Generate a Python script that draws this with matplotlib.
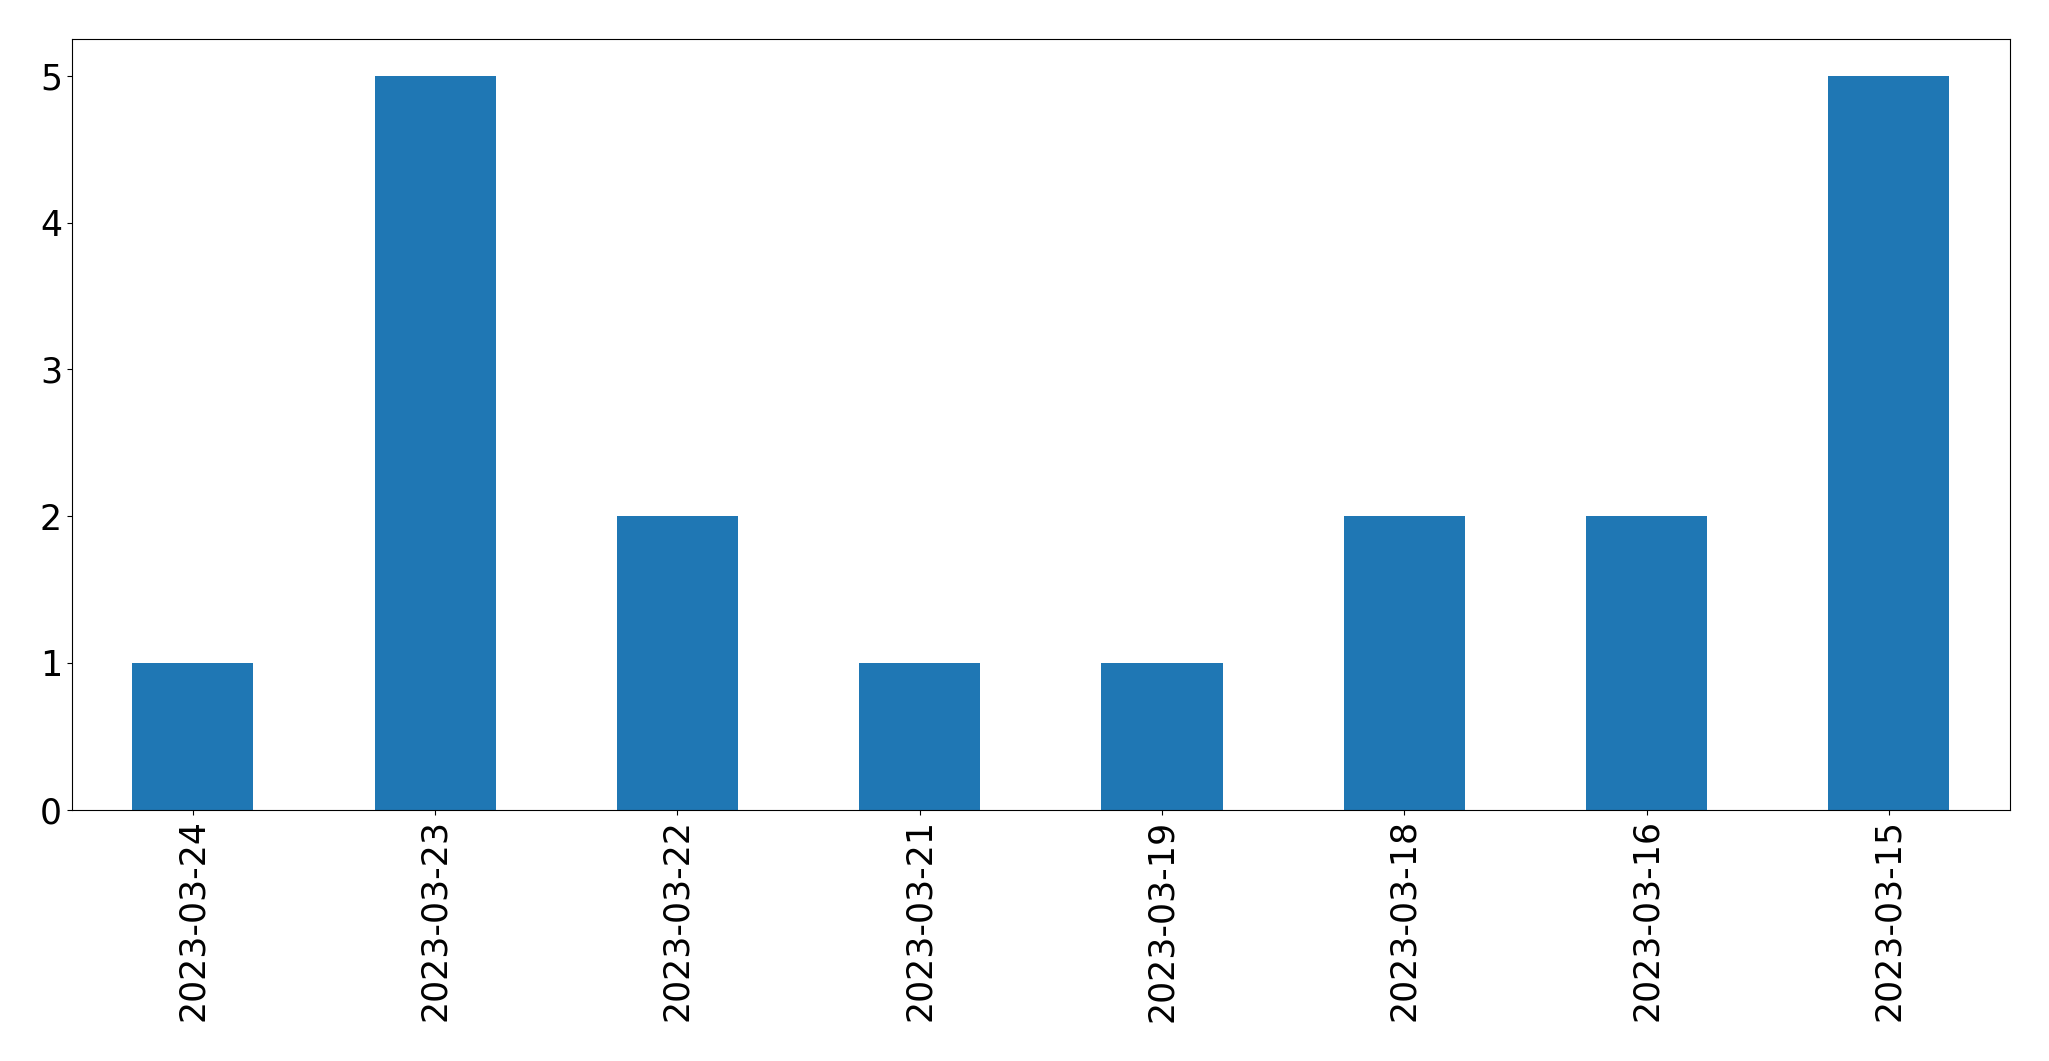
import numpy as np
import matplotlib.pyplot as plt

dates = ['2023-03-24', '2023-03-23', '2023-03-22', '2023-03-21',
         '2023-03-19', '2023-03-18', '2023-03-16', '2023-03-15']
counts = [1, 5, 2, 1, 1, 2, 2, 5]

fig, ax = plt.subplots(figsize=(20.49, 10.61), dpi=100)
x = np.arange(len(dates))
ax.bar(x, counts, width=0.5, color='#1f77b4')
ax.set_xlim(-0.5, len(dates) - 0.5)
ax.set_xticks(x)
ax.set_xticklabels(dates, rotation=90)
ax.tick_params(labelsize=25)

plt.subplots_adjust(left=0.035, right=0.981, top=0.963, bottom=0.237)
plt.savefig('out.png', dpi=100)
